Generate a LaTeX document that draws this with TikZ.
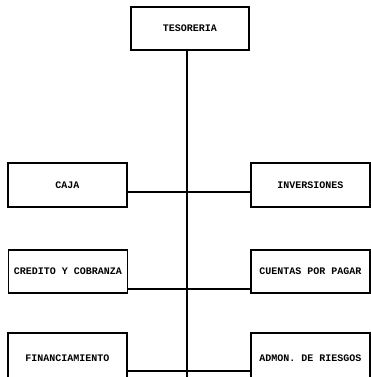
\documentclass[tikz,border=0pt]{standalone}
\usepackage{fontspec}
\setmonofont{Liberation Mono}
\begin{document}
\begin{tikzpicture}[x=1pt,y=-1pt,
  box/.style={draw,line width=1.2pt,minimum width=119pt,minimum height=44pt,inner sep=0pt,font=\ttfamily\bfseries\fontsize{10}{10}\selectfont},
  conn/.style={line width=1.1pt}]
\useasboundingbox (0,0) rectangle (371,377);
\clip (0,0) rectangle (371,377);
\node[box,minimum width=118pt,minimum height=43pt] (tes) at (190,28.5) {TESORERIA};
\node[box] (caja) at (67.5,185) {CAJA};
\node[box] (inv) at (310.5,185) {INVERSIONES};
\node[box,minimum height=43pt] (cred) at (68,271.5) {CREDITO Y COBRANZA};
\node[box,minimum height=43pt] (cxp) at (310.5,271.5) {CUENTAS POR PAGAR};
\node[box,minimum height=50pt] (fin) at (67.5,358) {FINANCIAMIENTO};
\node[box,minimum height=50pt] (adr) at (310.5,358) {ADMON. DE RIESGOS};
\coordinate (bot) at (187,377);
\coordinate (j1) at (187,192);
\coordinate (j2) at (187,289);
\coordinate (j3) at (187,371);
\draw[conn] (tes.south -| bot) -- (bot);
\draw[conn] (j1) -- (j1 -| caja.east);
\draw[conn] (j1) -- (j1 -| inv.west);
\draw[conn] (j2) -- (j2 -| cred.east);
\draw[conn] (j2) -- (j2 -| cxp.west);
\draw[conn] (j3) -- (j3 -| fin.east);
\draw[conn] (j3) -- (j3 -| adr.west);
\end{tikzpicture}
\end{document}
